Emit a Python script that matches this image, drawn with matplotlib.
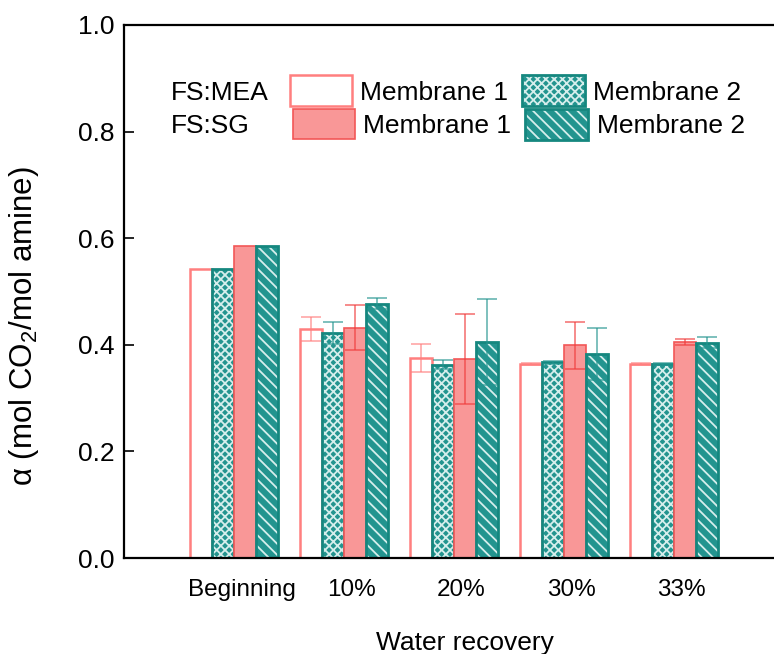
import matplotlib
matplotlib.use("Agg")
import matplotlib.pyplot as plt
from matplotlib.patches import Rectangle
import numpy as np

plt.rcParams['font.family'] = ['Liberation Sans', 'DejaVu Sans']
plt.rcParams['mathtext.fontset'] = 'custom'
plt.rcParams['mathtext.rm'] = 'Liberation Sans'
plt.rcParams['hatch.linewidth'] = 1.3

W, H = 774, 654

groups = ['Beginning', '10%', '20%', '30%', '33%']

# CO2 loading, mol CO2 / mol amine
mea_m1 = [0.542, 0.430, 0.375, 0.364, 0.364]
mea_m2 = [0.542, 0.422, 0.363, 0.367, 0.364]
sg_m1 = [0.586, 0.432, 0.373, 0.399, 0.405]
sg_m2 = [0.586, 0.477, 0.405, 0.383, 0.404]

# error bars (no replicate at the beginning)
mea_m1_err = [0.022, 0.026, 0.002, 0.001]
mea_m2_err = [0.020, 0.008, 0.003, 0.001]
sg_m1_err = [0.042, 0.084, 0.044, 0.006]
sg_m2_err = [0.010, 0.080, 0.049, 0.010]

PINK_EDGE = '#FF7F7F'
PINK_FACE = '#F99797'
RED_EDGE = '#F25757'
TEAL = '#23948F'
TEAL_EDGE = '#15877F'
HATCH_W = '#D6EEEC'
CROSS = 'xxxx'
STRIPE = '\\\\\\'


def px(x, y):
    return x / W, 1 - y / H


def hatched_bar(ax, x, h, width, hatch):
    # white hatch on a teal face, then the teal outline on top
    ax.bar(x, h, width, color=TEAL, edgecolor=HATCH_W, hatch=hatch, linewidth=0)
    ax.bar(x, h, width, fill=False, edgecolor=TEAL_EDGE, linewidth=2)


def legend_box(x0, y0, x1, y1, **kw):
    r = Rectangle(px(x0, y1), (x1 - x0) / W, (y1 - y0) / H,
                  transform=fig.transFigure, **kw)
    fig.add_artist(r)


fig = plt.figure(figsize=(W / 100, H / 100), dpi=100)
ax = fig.add_axes([124 / W, (H - 558) / H, (800 - 124) / W, 533 / H])

x = np.arange(len(groups))
bw = 0.2

ax.bar(x - 0.3, mea_m1, bw, color='white', edgecolor=PINK_EDGE, linewidth=1.8)
hatched_bar(ax, x - 0.1, mea_m2, bw, CROSS)
ax.bar(x + 0.1, sg_m1, bw, color=PINK_FACE, edgecolor=RED_EDGE, linewidth=1.2)
hatched_bar(ax, x + 0.3, sg_m2, bw, STRIPE)

ekw = dict(fmt='none', capsize=7.5, elinewidth=1.1, capthick=1.1)
ax.errorbar(x[1:] - 0.3, mea_m1[1:], yerr=mea_m1_err, ecolor=PINK_EDGE, alpha=0.75, **ekw)
ax.errorbar(x[1:] - 0.1, mea_m2[1:], yerr=mea_m2_err, ecolor=TEAL, alpha=0.75, **ekw)
ax.errorbar(x[1:] + 0.1, sg_m1[1:], yerr=sg_m1_err, ecolor='#F03C3C', alpha=0.75, **ekw)
ax.errorbar(x[1:] + 0.3, sg_m2[1:], yerr=sg_m2_err, ecolor=TEAL, alpha=0.75, **ekw)

ax.set_xlim(-1.0, 5.15)
ax.set_ylim(0, 1.0)
ax.set_yticks(np.arange(0, 1.01, 0.2))
ax.set_yticklabels(['0.0', '0.2', '0.4', '0.6', '0.8', '1.0'])
ax.set_xticks(x + 0.07)
ax.set_xticklabels(groups)
ax.tick_params(axis='y', direction='in', length=7.5, width=1.2, pad=7, labelsize=19)
ax.tick_params(axis='x', length=0, pad=15, labelsize=17.5)
for s in ['left', 'top', 'bottom', 'right']:
    ax.spines[s].set_linewidth(1.6)

fig.text(*px(24, 326), 'α (mol CO$_\\mathregular{2}$/mol amine)', rotation=90,
         ha='center', va='center', fontsize=22.5)
fig.text(*px(465, 650), 'Water recovery', ha='center', va='baseline', fontsize=19)

# legend, drawn by hand in two rows
fig.text(*px(171, 100), 'FS:MEA', va='baseline', fontsize=19)
fig.text(*px(171, 133), 'FS:SG', va='baseline', fontsize=19)

legend_box(290, 75, 352, 106, facecolor='white', edgecolor=PINK_EDGE, linewidth=1.8)
legend_box(293, 109, 355, 139, facecolor=PINK_FACE, edgecolor=RED_EDGE, linewidth=1.2)
legend_box(522, 75, 585, 106, facecolor=TEAL, edgecolor=HATCH_W, hatch=CROSS, linewidth=0)
legend_box(522, 75, 585, 106, fill=False, edgecolor=TEAL_EDGE, linewidth=2)
legend_box(525, 109, 588, 140, facecolor=TEAL, edgecolor=HATCH_W, hatch=STRIPE, linewidth=0)
legend_box(525, 109, 588, 140, fill=False, edgecolor=TEAL_EDGE, linewidth=2)

fig.text(*px(360, 100), 'Membrane 1', va='baseline', fontsize=19)
fig.text(*px(363, 133), 'Membrane 1', va='baseline', fontsize=19)
fig.text(*px(593, 100), 'Membrane 2', va='baseline', fontsize=19)
fig.text(*px(597, 133), 'Membrane 2', va='baseline', fontsize=19)

fig.savefig('out.png', dpi=100)
